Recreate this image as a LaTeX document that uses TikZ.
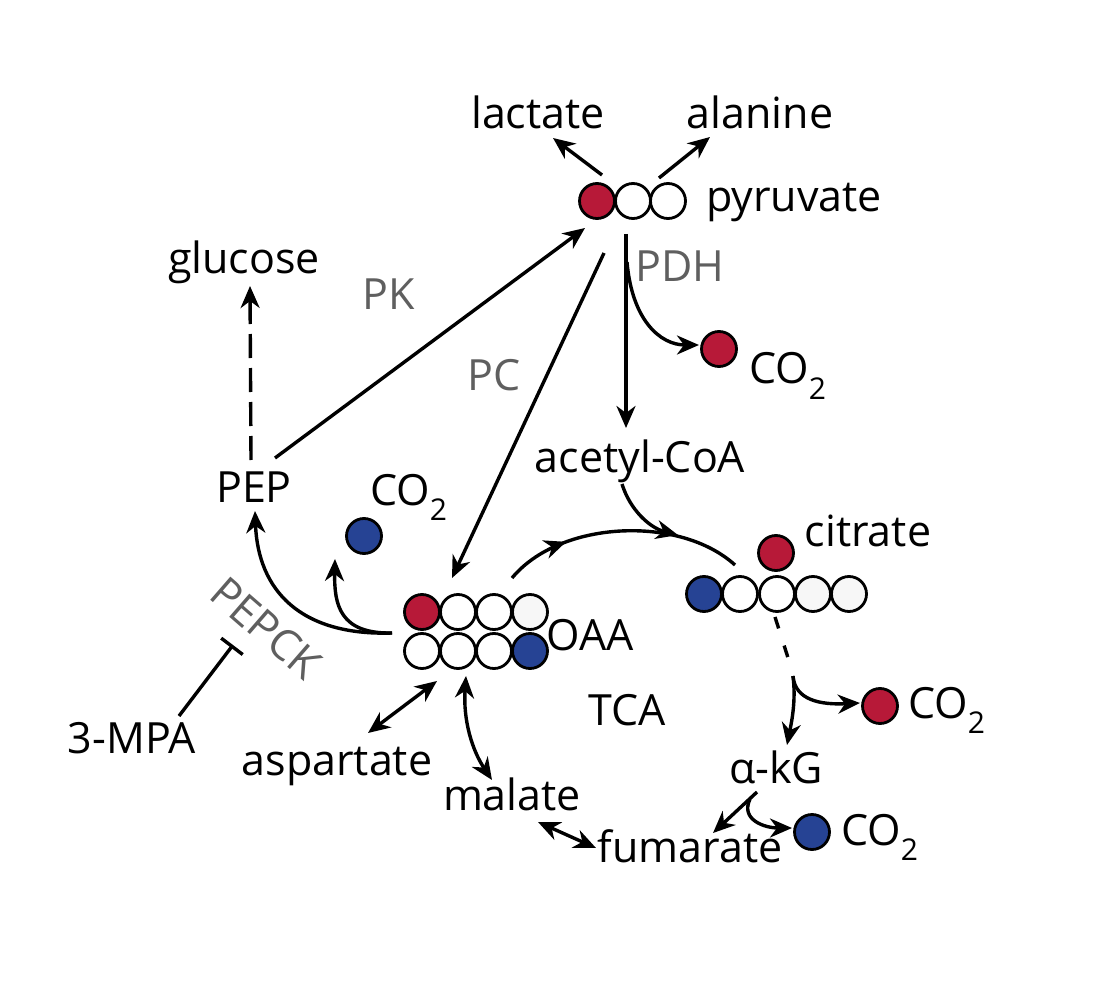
\documentclass[tikz,border=0pt]{standalone}
\usepackage{fontspec}
\setmainfont{Open Sans}
\usetikzlibrary{arrows.meta,decorations.markings}
\definecolor{cred}{RGB}{183,25,56}
\definecolor{cblue}{RGB}{38,67,148}
\definecolor{clight}{RGB}{247,247,247}
\definecolor{cgray}{RGB}{95,95,95}
\newcommand{\cotwo}{CO\raisebox{-0.36em}{\fontsize{30}{30}\selectfont 2}}
\tikzset{
  mytip/.tip={Stealth[length=22pt,width=19pt,inset=7pt]},
  lbl/.style={inner sep=0pt, anchor=base, font=\fontsize{43}{50}\selectfont},
  enz/.style={lbl, text=cgray},
  atom/.style={circle, draw=black, line width=2.8pt, minimum size=35pt, inner sep=0pt, fill=white},
  ratom/.style={atom, fill=cred},
  batom/.style={atom, fill=cblue},
  latom/.style={atom, fill=clight},
  arr/.style={line width=3.4pt, -mytip},
  darr/.style={line width=3.4pt, mytip-mytip},
  ln/.style={line width=3.4pt},
}
\begin{document}
\begin{tikzpicture}[x=1pt,y=-1pt]
\path[use as bounding box] (0,0) rectangle (1114,984);
% labels
\node[lbl] (lactate) at (538,129) {lactate};
\node[lbl] (alanine) at (760,129) {alanine};
\node[lbl] (pyrtxt) at (794,212) {pyruvate};
\node[lbl] (glucose) at (244,274) {glucose};
\node[enz] (PK) at (389,310) {PK};
\node[enz] (PC) at (494,390) {PC};
\node[enz] (PDH) at (680,282) {PDH};
\node[lbl] (PEP) at (254,502) {PEP};
\node[lbl, anchor=base west] (co2a) at (370,505) {\cotwo};
\node[lbl, anchor=base west] (co2b) at (749,384) {\cotwo};
\node[lbl] (acoa) at (640,472) {acetyl-CoA};
\node[lbl] (citrate) at (868,546) {citrate};
\node[lbl] (OAA) at (590,650) {OAA};
\node[lbl, anchor=base west] (co2c) at (908,718) {\cotwo};
\node[lbl] (TCA) at (627,725) {TCA};
\node[lbl] (akg) at (776,783) {α-kG};
\node[lbl, anchor=base west] (co2d) at (841,845) {\cotwo};
\node[lbl] (fumarate) at (690,862) {fumarate};
\node[lbl] (malate) at (512,810) {malate};
\node[lbl] (aspartate) at (337,775) {aspartate};
\node[lbl] (mpa) at (132,753) {3-MPA};
\node[enz, rotate=-41, anchor=center] (PEPCK) at (266,628) {PEPCK};
% pyruvate atoms
\node[ratom] (p1) at (597,201) {};
\node[atom] (p2) at (633,201) {};
\node[atom] (p3) at (668,201) {};
% CO2 atoms
\node[batom] (cb1) at (364,536) {};
\node[ratom] (cr1) at (719,349) {};
\node[ratom] (cr2) at (880,706) {};
\node[batom] (cb2) at (812,832) {};
% OAA atoms
\node[ratom] (o1) at (422,612) {};
\node[atom] (o2) at (458,612) {};
\node[atom] (o3) at (494,612) {};
\node[latom] (o4) at (530,612) {};
\node[atom] (o5) at (422,651) {};
\node[atom] (o6) at (458,651) {};
\node[atom] (o7) at (494,651) {};
\node[batom] (o8) at (530,651) {};
% citrate atoms
\node[ratom] (c0) at (776,553) {};
\node[batom] (c1) at (704,594) {};
\node[atom] (c2) at (740,594) {};
\node[atom] (c3) at (777,594) {};
\node[latom] (c4) at (813,594) {};
\node[latom] (c5) at (849,594) {};
% coordinates
\coordinate (pl) at (602,175); \coordinate (lt) at (553,138);
\coordinate (pa) at (659,178); \coordinate (at) at (710,137);
\coordinate (pepu) at (251,460); \coordinate (glt) at (250,286);
\coordinate (pepr) at (275,458); \coordinate (pyrt) at (585,228);
\coordinate (pcs) at (604,253); \coordinate (pct) at (452,578);
\coordinate (pdhs) at (626,234); \coordinate (pdht) at (626,428);
\coordinate (pdhb) at (627,262); \coordinate (cr1t) at (699,345);
\coordinate (oaas) at (392,633); \coordinate (pept) at (255,511);
\coordinate (co2t) at (335,559);
\coordinate (arcs) at (512,578); \coordinate (arce) at (735,565);
\coordinate (acs) at (622,484); \coordinate (act) at (678,535);
\coordinate (ds) at (775,617); \coordinate (de) at (790,664);
\coordinate (br) at (793,676); \coordinate (akgt) at (787,745);
\coordinate (cr2t) at (860,703);
\coordinate (ks) at (757,792); \coordinate (fut) at (713,833);
\coordinate (kb) at (750,799); \coordinate (cb2t) at (792,828);
\coordinate (mfa) at (538,822); \coordinate (mfb) at (596,848);
\coordinate (oma) at (466,676); \coordinate (omb) at (492,780);
\coordinate (asa) at (437,681); \coordinate (asb) at (368,733);
\coordinate (mpas) at (179,716); \coordinate (mpat) at (233,645);
% connectors
\draw[arr] (pl) -- (lt);
\draw[arr] (pa) -- (at);
\draw[arr, dash pattern=on 24pt off 10pt] (pepu) -- (glt);
\draw[arr] (pepr) -- (pyrt);
\draw[arr] (pcs) -- (pct);
\draw[arr] (pdhs) -- (pdht);
\draw[arr] (pdhb) .. controls (632,320) and (660,345) .. (cr1t);
\draw[arr] (oaas) .. controls (300,636) and (258,590) .. (pept);
\draw[arr] (oaas) .. controls (340,634) and (334,605) .. (co2t);
\draw[ln, postaction={decorate}, decoration={markings, mark=at position 0.27 with {\arrow{mytip}}}]
  (arcs) .. controls (560,520) and (680,515) .. (arce);
\draw[arr] (acs) .. controls (630,510) and (650,528) .. (act);
\draw[ln, dash pattern=on 12pt off 18pt] (ds) -- (de);
\draw[arr] (br) .. controls (796,700) and (792,720) .. (akgt);
\draw[arr] (br) .. controls (795,700) and (820,705) .. (cr2t);
\draw[arr] (ks) -- (fut);
\draw[arr] (kb) .. controls (740,820) and (765,828) .. (cb2t);
\draw[darr] (mfa) -- (mfb);
\draw[darr] (oma) .. controls (463,720) and (472,750) .. (omb);
\draw[darr] (asa) -- (asb);
\draw[ln, -{Bar[width=27pt]}] (mpas) -- (mpat);
\end{tikzpicture}
\end{document}
